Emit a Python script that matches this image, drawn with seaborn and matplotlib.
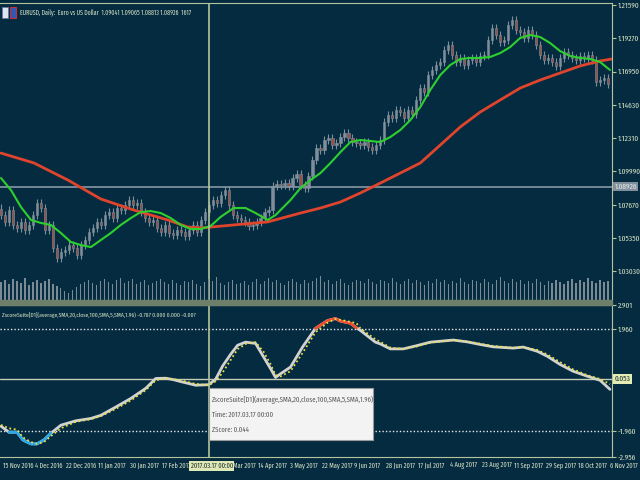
import numpy as np
import matplotlib
matplotlib.use("Agg")
import matplotlib.pyplot as plt
from matplotlib.patches import Rectangle
import seaborn as sns

# price closes, one value every 2 daily bars (15 Nov 2016 -> 6 Nov 2017)
closes = [
    1.0695, 1.0647, 1.0730, 1.0626, 1.0605, 1.0647, 1.0591, 1.0626, 1.0695, 1.0779,
    1.0744, 1.0591, 1.0626, 1.0465, 1.0396, 1.0437, 1.0451, 1.0486, 1.0465, 1.0417,
    1.0486, 1.0521, 1.0577, 1.0605, 1.0647, 1.0626, 1.0695, 1.0716, 1.0674, 1.0744,
    1.0730, 1.0765, 1.0800, 1.0765, 1.0779, 1.0716, 1.0674, 1.0647, 1.0661, 1.0605,
    1.0577, 1.0626, 1.0570, 1.0556, 1.0591, 1.0577, 1.0549, 1.0591, 1.0626, 1.0577,
    1.0661, 1.0716, 1.0765, 1.0800, 1.0779, 1.0835, 1.0869, 1.0765, 1.0695, 1.0674,
    1.0661, 1.0647, 1.0619, 1.0626, 1.0647, 1.0674, 1.0716, 1.0730, 1.0897, 1.0911,
    1.0904, 1.0918, 1.0897, 1.0953, 1.0981, 1.0904, 1.0883, 1.0967, 1.1079, 1.1162,
    1.1148, 1.1218, 1.1232, 1.1183, 1.1197, 1.1239, 1.1267, 1.1232, 1.1204, 1.1197,
    1.1183, 1.1204, 1.1169, 1.1148, 1.1183, 1.1218, 1.1343, 1.1392, 1.1371, 1.1427,
    1.1413, 1.1371, 1.1427, 1.1399, 1.1497, 1.1580, 1.1552, 1.1671, 1.1706, 1.1741,
    1.1762, 1.1845, 1.1880, 1.1810, 1.1762, 1.1790, 1.1741, 1.1776, 1.1790, 1.1762,
    1.1804, 1.1810, 1.1915, 1.1999, 1.1950, 1.1901, 1.1915, 1.2020, 1.2054, 1.1985,
    1.1971, 1.1929, 1.1985, 1.1950, 1.1880, 1.1810, 1.1776, 1.1790, 1.1762, 1.1734,
    1.1790, 1.1831, 1.1810, 1.1790, 1.1776, 1.1804, 1.1790, 1.1810, 1.1776, 1.1622,
    1.1636, 1.1650, 1.1608,
]
volumes = [
    18, 20, 16, 21, 19, 17, 22, 15, 18, 20,
    17, 19, 21, 16, 14, 12, 9, 7, 10, 13,
    16, 18, 20, 17, 15, 19, 21, 18, 16, 20,
    22, 17, 19, 21, 16, 18, 20, 15, 17, 19,
    21, 18, 16, 20, 17, 15, 19, 18, 20, 16,
    14, 18, 21, 19, 23, 17, 15, 18, 20, 16,
    17, 19, 15, 18, 21, 16, 19, 22, 18, 20,
    17, 15, 19, 21, 18, 16, 20, 17, 19, 22,
    24, 18, 20, 16, 19, 21, 17, 15, 18, 20,
    19, 17, 21, 18, 16, 20, 19, 17, 22, 18,
    16, 19, 21, 17, 20, 18, 15, 19, 17, 21,
    18, 20, 16, 19, 17, 22, 18, 16, 20, 19,
    17, 21, 18, 16, 20, 23, 19, 17, 21, 18,
    20, 16, 19, 17, 21, 18, 15, 19, 17, 20,
    18, 16, 19, 21, 17, 20, 18, 22, 19, 17,
    20, 18, 19,
]

# moving averages (bar index, price)
sma20_bar = [0, 5, 10, 15, 20, 25, 30, 35, 40, 45, 50, 55, 60, 65, 70, 75, 80, 85, 90, 95,
             100, 105, 110, 116.5, 122.5, 127.5, 133.5, 137.5, 141.5, 145, 150, 155, 160,
             165, 170, 175, 180, 185, 190, 195, 200, 205, 210, 215, 220, 225, 230, 235, 240,
             245, 250, 255, 260, 265, 270, 275, 280, 285, 290, 295, 300, 305]
sma20 = [1.0953, 1.0869, 1.0751, 1.0661, 1.0640, 1.0626, 1.0570, 1.0507, 1.0486, 1.0472,
         1.0521, 1.0570, 1.0626, 1.0674, 1.0716, 1.0723, 1.0709, 1.0674, 1.0626, 1.0598,
         1.0598, 1.0619, 1.0682, 1.0744, 1.0744, 1.0709, 1.0661, 1.0695, 1.0751, 1.0800,
         1.0883, 1.0939, 1.0988, 1.1058, 1.1134, 1.1204, 1.1218, 1.1211, 1.1204, 1.1239,
         1.1288, 1.1357, 1.1448, 1.1567, 1.1671, 1.1741, 1.1783, 1.1790, 1.1790, 1.1797,
         1.1824, 1.1866, 1.1929, 1.1950, 1.1936, 1.1894, 1.1838, 1.1804, 1.1790, 1.1783,
         1.1762, 1.1706]
sma100_bar = [0, 16.5, 33.5, 50, 66.5, 83.5, 93.5, 100, 116.5, 133.5, 150, 160, 170, 180,
              190, 200, 210, 220, 230, 240, 250, 260, 270, 280, 290, 300, 306]
sma100 = [1.1127, 1.1058, 1.0939, 1.0807, 1.0730, 1.0661, 1.0612, 1.0605, 1.0626, 1.0647,
          1.0709, 1.0744, 1.0786, 1.0849, 1.0918, 1.0988, 1.1058, 1.1183, 1.1309, 1.1413,
          1.1497, 1.1580, 1.1636, 1.1685, 1.1734, 1.1769, 1.1783]

# z-score indicator (bar index, value) and its SMA(5) signal
z_bar = [0, 4, 8, 11, 15, 18, 21.5, 25, 30, 37.5, 45, 50, 57.5, 65, 72.5, 77.5, 82.5, 86,
         90, 97.5, 104, 107.5, 111, 115, 118.5, 122.5, 127.5, 131.5, 135, 137.5, 140, 145,
         151, 157.5, 163.5, 167.5, 170, 175, 178, 180, 187.5, 190, 195, 201.5, 208.5, 215,
         226.5, 233.5, 240, 246.5, 256.5, 261.5, 268.5, 273.5, 280, 286.5, 293.5, 300, 305]
z_val = [-1.77, -2.0, -2.0, -2.3, -2.45, -2.45, -2.3, -2.04, -1.73, -1.56, -1.47, -1.35,
         -1.03, -0.70, -0.31, 0.07, 0.08, 0.03, -0.05, -0.19, -0.17, 0.04, 0.55, 1.0,
         1.35, 1.47, 1.42, 0.9, 0.45, 0.11, 0.25, 0.51, 1.28, 2.0, 2.3, 2.38, 2.28, 2.2,
         2.02, 1.92, 1.47, 1.40, 1.21, 1.21, 1.34, 1.47, 1.55, 1.48, 1.38, 1.29, 1.24,
         1.28, 1.12, 0.93, 0.61, 0.35, 0.16, 0.0, -0.35]
sig_val = [-1.72, -1.85, -1.9, -2.2, -2.38, -2.45, -2.38, -2.15, -1.85, -1.6, -1.5, -1.38,
           -1.1, -0.78, -0.38, 0.0, 0.08, 0.05, 0.0, -0.14, -0.19, -0.04, 0.3, 0.78,
           1.2, 1.4, 1.47, 1.1, 0.62, 0.2, 0.15, 0.35, 1.05, 1.85, 2.22, 2.36, 2.33, 2.25,
           2.2, 2.0, 1.58, 1.48, 1.26, 1.2, 1.31, 1.45, 1.55, 1.5, 1.41, 1.32, 1.25,
           1.28, 1.17, 1.0, 0.7, 0.42, 0.2, 0.05, -0.15]

price_ticks = [1.21590, 1.19270, 1.16950, 1.14630, 1.12310, 1.09990, 1.07670, 1.05350, 1.03030]
z_ticks = [2.901, 1.960, -1.960, -2.956]
# "7 Mar 2017" sits fully under the crosshair date box in the reference, so it has no label
date_ticks = ["15 Nov 2016", "4 Dec 2016", "22 Dec 2016", "11 Jan 2017", "30 Jan 2017",
              "17 Feb 2017", "", "27 Mar 2017", "14 Apr 2017", "3 May 2017",
              "22 May 2017", "9 Jun 2017", "28 Jun 2017", "17 Jul 2017", "4 Aug 2017",
              "23 Aug 2017", "11 Sep 2017", "29 Sep 2017", "18 Oct 2017", "6 Nov 2017"]

BG = "#042b40"
FRAME = "#b4c49c"
TXT = "#d6e2c4"
WICK = "#7f8e9a"
FS = 5.8

sns.set_style("dark")
plt.rcParams["font.family"] = ["Fira Sans Extra Condensed", "Roboto Condensed", "DejaVu Sans"]
plt.rcParams["axes.facecolor"] = BG

fig = plt.figure(figsize=(6.4, 4.8), dpi=100, facecolor=BG)
ax = fig.add_axes([0, 1 - 300 / 480, 612 / 640, 297 / 480])
ax2 = fig.add_axes([0, 1 - 457 / 480, 612 / 640, 152 / 480])
fig.patches.append(Rectangle((0, 1 - 305 / 480), 612 / 640, 5 / 480,
                             transform=fig.transFigure, color="#6f806a", zorder=0))

# candles
xb = np.arange(len(closes)) * 2
c = np.array(closes)
o = np.concatenate([[1.0740], c[:-1]])
lo = np.minimum(o, c)
hi = np.maximum(o, c)
ax.vlines(xb, lo - 0.003, hi + 0.003, color=WICK, linewidth=0.8, zorder=2)
body_col = np.where(c >= o, "#7f8e9a", "#9a5048")
ax.bar(xb, np.maximum(hi - lo, 0.0004), bottom=lo, width=1.1, color=body_col,
       edgecolor=WICK, linewidth=0.4, zorder=3)

# volumes
axv = ax.twinx()
axv.bar(xb, volumes, width=0.6, color="#7c8a94", linewidth=0, zorder=1)
axv.set_ylim(0, 300)
axv.axis("off")

sns.lineplot(x=sma100_bar, y=sma100, ax=ax, color="#e0442c", linewidth=2, zorder=5)
sns.lineplot(x=sma20_bar, y=sma20, ax=ax, color="#2ed02e", linewidth=1.5, zorder=6)

ax.axhline(1.08926, color="#8696a4", linewidth=1.2, zorder=4)
ax.axvline(104, color=FRAME, linewidth=1.2, zorder=7)

ax.set_xlim(-0.5, 306)
ax.set_ylim(1.0103, 1.2173)
ax.set_xticks([])
ax.yaxis.tick_right()
ax.set_yticks(price_ticks)
ax.set_yticklabels([f"{v:.5f}" for v in price_ticks])
ax.tick_params(axis="y", colors=FRAME, labelcolor=TXT, labelsize=FS, length=3, pad=1)
ax.set_xlabel("")
ax.set_ylabel("")
for s in ax.spines.values():
    s.set_visible(False)
ax.spines["right"].set_visible(True)
ax.spines["right"].set_color(FRAME)
ax.spines["top"].set_visible(True)
ax.spines["top"].set_color(FRAME)
ax.text(1.004, 1.08926, "1.08926", transform=ax.get_yaxis_transform(), fontsize=FS,
        color="#e4ecec", va="center", ha="left",
        bbox=dict(facecolor="#7f8f9c", edgecolor="none", pad=0.8), zorder=10)

# indicator
zv = np.array(z_val)
sns.lineplot(x=z_bar, y=z_val, ax=ax2, color="#d2d2d2", linewidth=2, zorder=4)
ax2.plot(z_bar, np.where(zv >= 1.96, zv, np.nan), color="#ee4a30", linewidth=2, zorder=5)
ax2.plot(z_bar, np.where(zv <= -1.96, zv, np.nan), color="#2aa8e8", linewidth=2, zorder=5)
sns.lineplot(x=z_bar, y=sig_val, ax=ax2, color="#e6e040", linewidth=1.3,
             linestyle=(0, (1, 1.5)), zorder=6)
for lv in (1.96, -1.96):
    ax2.axhline(lv, color="#e8e8e8", linewidth=1, linestyle=(0, (1, 1.5)), zorder=2)
ax2.axhline(0.053, color="#c4ccb4", linewidth=1, zorder=3)
ax2.axvline(104, color=FRAME, linewidth=1.2, zorder=7)

ax2.set_xlim(-0.5, 306)
ax2.set_ylim(-2.956, 2.901)
ax2.yaxis.tick_right()
ax2.set_yticks(z_ticks)
ax2.set_yticklabels([f"{v:.3f}" for v in z_ticks])
ax2.tick_params(axis="y", colors=FRAME, labelcolor=TXT, labelsize=FS, length=3, pad=1)
ax2.set_xticks(np.arange(len(date_ticks)) * 16)
ax2.set_xticklabels([])
ax2.tick_params(axis="x", colors=FRAME, length=3, width=1)
ax2.set_xlabel("")
ax2.set_ylabel("")
for s in ax2.spines.values():
    s.set_color(FRAME)
ax2.spines["left"].set_visible(False)
for i, lab in enumerate(date_ticks):
    if lab:
        ax2.text(i * 16 + 0.8, -0.035, lab, transform=ax2.get_xaxis_transform(),
                 fontsize=5.0, color=TXT, ha="left", va="top")
ax2.text(95, -0.035, "2017.03.17 00:00", transform=ax2.get_xaxis_transform(),
         fontsize=5.0, color="#1c2c30", ha="left", va="top",
         bbox=dict(facecolor="#dfe9b5", edgecolor="none", pad=0.9), zorder=10)
ax2.text(1.004, 0.053, "0.053", transform=ax2.get_yaxis_transform(), fontsize=FS,
         color="#1c2c30", va="center", ha="left",
         bbox=dict(facecolor="#e2ecb4", edgecolor="none", pad=0.8), zorder=10)

# headers
fig.patches.append(Rectangle((2 / 640, 1 - 18 / 480), 6 / 640, 11 / 480,
                             transform=fig.transFigure, facecolor="#dfe6f2",
                             edgecolor="#6a7aa0", linewidth=0.5))
fig.patches.append(Rectangle((10 / 640, 1 - 18 / 480), 6 / 640, 11 / 480,
                             transform=fig.transFigure, facecolor="#3058b8",
                             edgecolor="#c83030", linewidth=0.8))
fig.text(20 / 640, 1 - 12 / 480,
         "EURUSD, Daily:  Euro vs US Dollar  1.09041 1.09065 1.08813 1.08926  1617",
         fontsize=4.6, color=TXT, va="center", ha="left")
fig.text(2 / 640, 1 - 315 / 480,
         "ZscoreSuite[D1](average,SMA,20,close,100,SMA,5,SMA,1.96) -0.787 0.000 0.000 -0.007",
         fontsize=4.4, color=TXT, va="center", ha="left")

# tooltip
fig.patches.append(Rectangle((209 / 640, 1 - 440 / 480), 164 / 640, 52 / 480,
                             transform=fig.transFigure, facecolor="#f3f3f3",
                             edgecolor="#9a9a9a", linewidth=0.8, zorder=20))
tip = ["ZscoreSuite[D1](average,SMA,20,close,100,SMA,5,SMA,1.96)",
       "Time: 2017.03.17 00:00", "ZScore: 0.044"]
for k, line in enumerate(tip):
    fig.text(212 / 640, 1 - (400 + 15 * k) / 480, line, fontsize=5.3,
             color="#5a5a5a", va="center", ha="left", zorder=21)

fig.savefig("out.png", dpi=100, facecolor=BG)
